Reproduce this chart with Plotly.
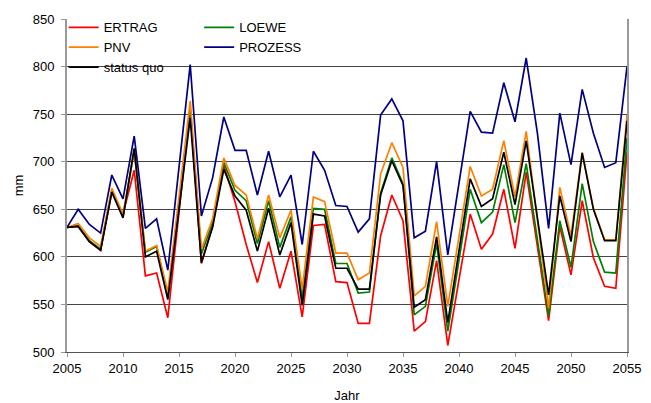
"""Jahresniederschlag / Sickerwasser nach Szenario, 2005-2055"""

import plotly.graph_objects as go

# years on the x axis
jahre = list(range(2005, 2056))

# series values (mm)
ertrag = [631, 632, 616, 607, 668, 645, 691, 580, 583, 536,
          647, 756, 593, 633, 696, 658, 613, 573, 616, 567,
          606, 537, 633, 634, 574, 573, 530, 530, 622, 665,
          638, 522, 532, 596, 507, 576, 645, 608, 624, 671,
          609, 689, 611, 533, 632, 581, 659, 599, 569, 567,
          710]
loewe = [631, 633, 617, 608, 670, 642, 712, 605, 611, 558,
         656, 755, 603, 636, 699, 670, 659, 614, 659, 610,
         642, 557, 651, 650, 593, 593, 562, 563, 667, 704,
         677, 539, 548, 614, 522, 597, 671, 636, 647, 697,
         636, 698, 617, 538, 638, 589, 677, 616, 584, 583,
         725]
pnv = [631, 635, 620, 611, 672, 645, 712, 606, 612, 563,
       663, 764, 608, 640, 704, 675, 665, 619, 665, 620,
       649, 566, 663, 658, 604, 604, 576, 583, 687, 720,
       694, 559, 569, 637, 548, 622, 695, 664, 671, 722,
       663, 732, 640, 546, 673, 622, 710, 651, 618, 618,
       749]
prozess = [631, 650, 634, 625, 686, 661, 727, 630, 640, 586,
           694, 802, 643, 683, 747, 712, 712, 665, 711, 663,
           686, 613, 711, 691, 654, 653, 626, 640, 749, 766,
           743, 620, 627, 700, 602, 680, 753, 731, 730, 783,
           742, 809, 730, 630, 751, 697, 776, 730, 694, 699,
           800]
status_quo = [631, 632, 616, 607, 668, 641, 714, 600, 606, 555,
              650, 746, 594, 631, 692, 664, 649, 606, 651, 602,
              636, 549, 645, 643, 588, 588, 566, 566, 665, 701,
              675, 547, 555, 621, 531, 607, 682, 653, 661, 710,
              655, 722, 641, 560, 664, 616, 709, 650, 617, 617,
              743]

# (name, values, colour, legend) in drawing order - status quo on top
series = [
    ("ERTRAG", ertrag, "#ff0000", "legend"),
    ("LOEWE", loewe, "#008000", "legend2"),
    ("PNV", pnv, "#ff8000", "legend"),
    ("PROZESS", prozess, "#000080", "legend2"),
    ("status quo", status_quo, "#000000", "legend"),
]

FONT = "Liberation Sans, Arial, sans-serif"

fig = go.Figure()
for name, values, colour, leg in series:
    fig.add_trace(
        go.Scatter(
            x=jahre,
            y=values,
            name=name,
            mode="lines",
            line=dict(color=colour, width=1.7),
            legend=leg,
        )
    )

# white strip hides the 800 gridline behind the legend, like the original
fig.add_shape(
    type="rect",
    xref="paper",
    yref="y",
    x0=0.003,
    x1=0.456,
    y0=795,
    y1=805,
    fillcolor="white",
    line_width=0,
    layer="between",
)

legend_style = dict(
    bgcolor="rgba(0,0,0,0)",
    font=dict(family=FONT, size=13, color="black"),
    orientation="v",
    xanchor="left",
    yanchor="top",
    itemwidth=30,
)

fig.update_layout(
    width=651,
    height=403,
    margin=dict(l=67, r=24, t=15, b=51),
    plot_bgcolor="white",
    paper_bgcolor="white",
    font=dict(family=FONT, size=13, color="black"),
    legend=dict(x=-0.006, y=1.02, **legend_style),
    legend2=dict(x=0.236, y=1.02, **legend_style),
)

fig.update_xaxes(
    range=[2005, 2055],
    dtick=5,
    tick0=2005,
    ticks="outside",
    ticklen=4,
    tickcolor="#999999",
    ticklabelstandoff=0,
    showline=True,
    linecolor="#555555",
    linewidth=1,
    showgrid=False,
    zeroline=False,
    automargin=False,
    title=dict(text="Jahr", font=dict(size=13), standoff=16),
)
fig.update_yaxes(
    range=[500, 850],
    dtick=50,
    ticks="outside",
    ticklen=4,
    tickcolor="#999999",
    ticklabelstandoff=4,
    showline=True,
    mirror=True,
    linecolor="#999999",
    linewidth=2,
    showgrid=True,
    gridcolor="#444444",
    gridwidth=1,
    zeroline=False,
    automargin=False,
    title=dict(text="mm", font=dict(size=13), standoff=6),
)

# drop the default page margin so the figure sits at the window corner
fig.write_html(
    "out.html",
    config={"displayModeBar": False},
    post_script="document.body.style.margin='0';",
)
